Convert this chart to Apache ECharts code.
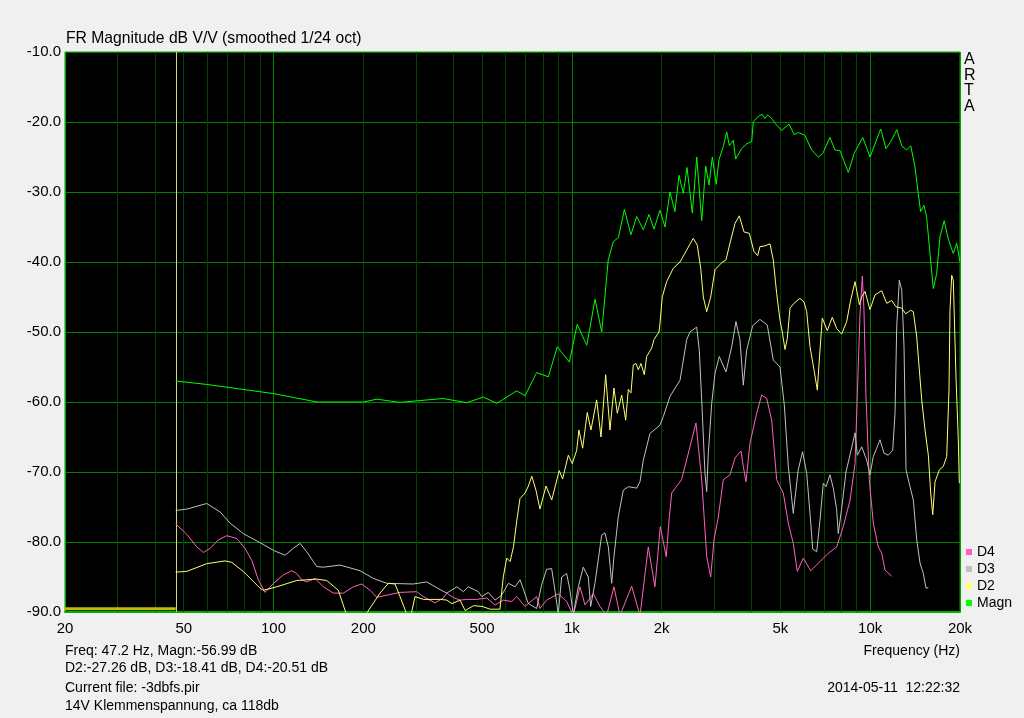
<!DOCTYPE html>
<html>
<head>
<meta charset="utf-8">
<script src="https://cdn.jsdelivr.net/npm/echarts@6/dist/echarts.min.js"></script>
<style>html,body{margin:0;padding:0;background:#f0f0f0;}#c{width:1024px;height:718px;}</style>
</head>
<body>
<div id="c"></div>
<script>
// ---- data (frequency in Hz, level in dB) ----
const magnFreq = [47,60,100,140,200,222,265,370,444,505,560,653,697,762,834,894,981,1042,1122,1196,1259,1324,1377,1432,1500,1578,1650,1736,1814,1884,1974,2052,2132,2216,2286,2364,2432,2534,2622,2724,2810,2882,2956,3048,3112,3218,3304,3372,3476,3540,3708,3856,4008,4056,4216,4346,4436,4530,4676,4798,5050,5344,5566,5742,6040,6368,6700,6934,7328,7620,7926,8446,8832,9440,9990,10840,11298,11722,12276,12756,13244,13676,14126,14488,14760,15136,15454,15868,16276,16712,17140,17704,18266,18996,19496,20000];
const magnDb = [-57.0,-57.5,-58.8,-60.0,-60.0,-59.6,-60.05,-59.5,-60.1,-59.3,-60.2,-58.4,-59.1,-55.8,-56.4,-52.1,-54.3,-48.9,-51.9,-45.3,-50.0,-39.7,-37.1,-36.5,-32.5,-36.1,-33.5,-35.4,-33.2,-35.3,-32.6,-35.0,-30.0,-32.8,-27.6,-30.2,-26.5,-33.0,-25.0,-34.1,-26.3,-29.0,-25.0,-28.9,-25.4,-23.5,-21.4,-23.4,-22.6,-25.3,-23.8,-23.1,-22.8,-19.95,-19.2,-18.9,-19.5,-19.0,-19.5,-20.2,-21.2,-20.3,-21.8,-21.5,-21.9,-24.0,-25.0,-24.5,-22.2,-24.0,-24.1,-27.2,-24.5,-22.2,-25.0,-21.0,-23.8,-22.8,-21.1,-23.4,-24.0,-23.4,-26.4,-30.2,-32.8,-31.9,-33.5,-38.8,-43.8,-41.6,-36.4,-34.1,-36.7,-38.8,-37.3,-40.0];

const d2Freq = [47,51.2,59.7,68.8,72.4,79.2,90.1,92.4,102.5,119.6,139.6,150.8,164.9,176,190,205,227.5,242.6,255.4,265.5,279.6,287,298,318,362,381,396,422,439,468,500,532,574,589,605,621,637,654,670,697,715,734,758,782,819,856,907,931,973,1003,1038,1056,1087,1126,1159,1211,1252,1298,1342,1384,1420,1469,1515,1546,1578,1607,1641,1670,1705,1749,1781,1851,1885,1959,1974,2009,2079,2187,2304,2426,2553,2633,2703,2758,2831,2920,3019,3179,3286,3389,3522,3641,3775,3933,4078,4196,4271,4439,4614,4733,4859,4985,5074,5181,5274,5385,5553,5813,6000,6126,6284,6481,6649,6751,6909,7181,7463,7721,8025,8341,8606,8897,9197,9368,9607,9985,10378,10929,11358,11807,12206,12755,13154,13672,13950,14321,14885,15269,15663,15956,16204,16495,17051,17581,18048,18372,18514,18758,18992,19391,19740,19893];
const d2Db = [-84.3,-84.2,-83.1,-82.7,-82.9,-84.2,-86.6,-86.9,-86.4,-85.5,-85.3,-85.5,-86.9,-90.5,-93,-90.2,-87.3,-85.9,-86.0,-87.8,-90.3,-91,-87.8,-88.2,-88.2,-88.3,-88.8,-88.3,-89.8,-89.1,-89.2,-89.6,-89.6,-85.0,-82.3,-82.8,-80.7,-76.9,-73.8,-73.0,-72.0,-70.6,-72.6,-75.3,-72.0,-74.0,-69.8,-71.0,-67.6,-68.8,-66.9,-64.0,-66.6,-61.5,-64.0,-59.7,-65.0,-56.1,-64.0,-58.0,-61.6,-59.0,-62.6,-58.2,-58.7,-54.7,-54.5,-55.4,-54.5,-56.1,-53.5,-52.3,-51.1,-50.0,-48.8,-45.0,-42.8,-40.9,-40.0,-38.3,-36.6,-37.6,-40.9,-45.0,-47.1,-45.0,-41.1,-40.1,-39.7,-37.3,-34.5,-33.4,-35.7,-35.9,-38.5,-39.1,-37.8,-37.7,-37.4,-39.7,-44.5,-48.3,-50.0,-52.5,-50.9,-46.6,-45.9,-45.2,-45.7,-47.1,-52.1,-55.4,-58.3,-54.0,-48.0,-49.8,-47.9,-49.5,-50.3,-48.5,-45.4,-42.8,-46.1,-45.0,-44.2,-46.8,-44.7,-44.1,-45.9,-45.5,-46.4,-46.6,-47.4,-46.9,-47.1,-50.7,-59.7,-64.0,-67.6,-73.0,-76.1,-71.4,-69.7,-69.2,-67.8,-58.3,-46.9,-41.9,-42.6,-56.4,-65.4,-71.6];

const d3Freq = [47,51.2,59.7,66.2,71.5,79.2,90.1,100,109.3,116.5,122.7,129.2,139.6,146.9,167.1,195,216,239.6,294,326,361.6,380.8,411.4,432.9,449.8,485.9,498.9,524.9,552.8,582.1,612.6,645.2,670.5,714.7,762,792,823,855.6,877.6,900.3,924.3,960.7,985.4,1011,1051,1092,1135,1156,1195,1259,1291,1325,1360,1384,1431,1487,1546,1650,1692,1736,1827,1974,2025,2132,2304,2426,2488,2621,2674,2724,2794,2831,2867,2943,3019,3120,3286,3434,3549,3660,3755,3854,4037,4271,4519,4733,4985,5153,5315,5523,5737,5935,6126,6284,6417,6618,6787,6962,7109,7332,7521,7721,7817,8025,8296,8606,8897,9056,9368,9733,9985,10242,10515,10786,11124,11499,11898,12112,12272,12521,12755,12984,13186,13599,13950,14321,14691,15069,15387,15663];
const d3Db = [-75.5,-75.3,-74.5,-75.7,-77.3,-78.8,-80.1,-81.2,-81.9,-80.9,-80.2,-81.4,-83.5,-83.6,-83.3,-84.1,-85.2,-85.9,-86.0,-85.7,-86.8,-87.3,-86.4,-87.1,-86.4,-87.1,-87.8,-87.2,-88.3,-87.6,-85.9,-86.4,-85.4,-88.8,-89.5,-86.1,-83.9,-83.8,-86.9,-90.3,-85.0,-84.5,-86.9,-90.3,-86.4,-83.6,-85.0,-89.2,-85.9,-79.0,-78.7,-80.7,-85.9,-82.1,-76.4,-72.6,-72.1,-72.3,-71.4,-68.3,-64.5,-63.3,-62.1,-59.2,-56.9,-51.1,-50.0,-49.3,-52.6,-59.7,-70.2,-72.8,-67.3,-60.2,-55.9,-53.5,-55.7,-52.1,-48.5,-51.1,-57.6,-52.6,-49.1,-48.2,-49.0,-54.0,-55.0,-60.4,-69.2,-75.9,-69.7,-67.1,-70.2,-75.9,-81.0,-81.4,-76.9,-71.6,-72.1,-70.4,-72.3,-75.4,-78.8,-75.2,-70.0,-67.1,-64.4,-67.6,-66.4,-68.3,-70.4,-67.8,-66.6,-65.4,-67.3,-67.6,-66.9,-61.6,-49.2,-42.6,-44.0,-52.1,-69.7,-72.1,-74.0,-79.7,-83.0,-84.5,-86.6,-86.5];

const d4Freq = [47,51.2,55.3,58.2,61.3,65.3,69.7,75.3,80.2,84.5,88.9,93.7,100,107.9,115.1,119.6,124.3,129.2,137.8,146.9,158.7,171.4,185.1,197.5,210.6,222,239.6,265.5,301.9,317.8,347.7,370.9,380.8,398.8,421.9,444.3,480,518.5,552.8,589.4,628.9,653.6,696.8,762,781.7,823,900.3,960.7,1011,1065,1107,1180,1242,1308,1384,1450,1587,1692,1804,1899,1979,2072,2121,2161,2332,2488,2606,2724,2831,2920,2995,3097,3218,3389,3522,3689,3755,3834,3954,4164,4328,4499,4675,4859,5113,5315,5523,5697,5968,6318,6787,7236,7721,8124,8560,8897,9056,9246,9412,9532,9681,9931,10242,10645,10929,11210,11807];
const d4Db = [-77.4,-78.9,-80.7,-81.5,-80.9,-79.7,-79.1,-79.5,-80.9,-82.6,-85.4,-87.2,-85.9,-84.7,-84.1,-84.5,-85.4,-85.7,-85.2,-86.4,-87.3,-87.3,-86.4,-86.0,-86.9,-87.9,-87.6,-87.2,-87.1,-87.8,-88.7,-88.0,-87.3,-87.9,-88.3,-88.2,-88.2,-88.0,-89.0,-88.3,-88.5,-87.8,-89.2,-87.8,-89.5,-88.3,-87.4,-88.5,-90.5,-86.4,-89.0,-87.4,-89.2,-90.5,-86.4,-90.5,-86.3,-90.5,-80.7,-86.4,-77.8,-82.1,-76.5,-73.0,-71.1,-66.4,-63.0,-71.1,-82.1,-85.0,-79.7,-76.4,-71.1,-70.4,-68.0,-67.0,-69.2,-71.4,-65.9,-61.6,-59.0,-59.5,-62.6,-71.1,-73.0,-77.3,-80.2,-84.2,-82.3,-84.1,-82.8,-81.6,-80.7,-77.8,-74.0,-68.8,-58.8,-47.3,-42.0,-46.9,-59.2,-71.1,-77.3,-80.7,-81.6,-84.0,-84.9];

// axis ticks / grid
const tickFreqs = [20,50,100,200,500,1000,2000,5000,10000,20000];
const tickLabels = ['20','50','100','200','500','1k','2k','5k','10k','20k'];
const minorFreqs = [30,40,50,60,70,80,90,200,300,400,500,600,700,800,900,2000,3000,4000,5000,6000,7000,8000,9000];
const majorFreqs = [100,1000,10000];
const edgeFreqs = [20,20000];
const cursorFreq = 47.2;
const bandFreq = [20,47];
const bandDb = [-89.55,-89.55];
const yMin = -90, yMax = -10, yStep = 10;

const FONT = 'Liberation Sans, Arial, Helvetica, sans-serif';
const zip = (a,b) => a.map((v,i)=>[v,b[i]]);

const lines = [];
minorFreqs.forEach(f => lines.push({xAxis:f, lineStyle:{color:'#004400'}}));
majorFreqs.forEach(f => lines.push({xAxis:f, lineStyle:{color:'#008000'}}));
edgeFreqs.forEach(f => lines.push({xAxis:f, lineStyle:{color:'#00a000'}}));
lines.push({xAxis:cursorFreq, lineStyle:{color:'#d8d870'}});
tickFreqs.forEach((f,i) => lines.push({xAxis:f, name:tickLabels[i], lineStyle:{color:'rgba(0,0,0,0)'}, label:{show:true}}));

const chart = echarts.init(document.getElementById('c'), null, {renderer:'canvas', width:1024, height:718});

function curve(name, fr, db, color){
  return {name, type:'line', data:zip(fr,db), showSymbol:false, symbol:'none', z:3,
    lineStyle:{color, width:1}, itemStyle:{color}, emphasis:{disabled:true}, animation:false, clip:true};
}

chart.setOption({
  backgroundColor:'#f0f0f0',
  animation:false,
  grid:{left:65, top:52, width:895, height:560, show:true, backgroundColor:'#000', borderColor:'#00a000', borderWidth:1, containLabel:false, outerBoundsMode:'none'},
  xAxis:{type:'log', logBase:10, min:20, max:20000,
    axisLabel:{show:false}, axisTick:{show:false}, splitLine:{show:false}, minorSplitLine:{show:false},
    axisLine:{show:true, onZero:false, lineStyle:{color:'#00b000', width:2}}},
  yAxis:{type:'value', min:yMin, max:yMax, interval:yStep,
    axisLabel:{formatter:v=>v.toFixed(1), color:'#000', fontSize:15, fontFamily:FONT, margin:4},
    axisTick:{show:false}, axisLine:{show:false},
    splitLine:{show:true, lineStyle:{color:'#008000', width:1}}},
  legend:{data:['D4','D3','D2','Magn'], orient:'vertical', left:966, top:545, icon:'rect',
    itemWidth:6, itemHeight:6, itemGap:3, padding:0, selectedMode:false,
    textStyle:{color:'#000', fontSize:14, lineHeight:14, fontFamily:FONT}},
  graphic:[
    {type:'text', left:66, top:31, style:{text:'FR Magnitude dB V/V (smoothed 1/24 oct)', fill:'#000', font:'15.7px '+FONT}},
    {type:'text', left:964, top:52, style:{text:'A\nR\nT\nA', fill:'#000', font:'16px '+FONT, lineHeight:15.5}},
    {type:'text', left:65, top:644, style:{text:'Freq: 47.2 Hz, Magn:-56.99 dB', fill:'#000', font:'14px '+FONT}},
    {type:'text', left:65, top:661, style:{text:'D2:-27.26 dB, D3:-18.41 dB, D4:-20.51 dB', fill:'#000', font:'14px '+FONT}},
    {type:'text', left:65, top:681, style:{text:'Current file: -3dbfs.pir', fill:'#000', font:'14px '+FONT}},
    {type:'text', left:65, top:699, style:{text:'14V Klemmenspannung, ca 118db', fill:'#000', font:'14px '+FONT}},
    {type:'text', right:64, top:644, style:{text:'Frequency (Hz)', fill:'#000', font:'14px '+FONT}},
    {type:'text', right:64, top:681, style:{text:'2014-05-11  12:22:32', fill:'#000', font:'14px '+FONT}}
  ],
  series:[
    {name:'band', type:'line', data:zip(bandFreq,bandDb), showSymbol:false, symbol:'none', z:2,
      lineStyle:{color:'#bfbf00', width:3}, animation:false, silent:true,
      markLine:{silent:true, z:1, symbol:['none','none'], animation:false,
        lineStyle:{type:'solid', width:1},
        label:{show:false, position:'start', distance:9, color:'#000', fontSize:15, fontFamily:FONT, formatter:p=>p.name},
        emphasis:{disabled:true},
        data:lines}},
    curve('D4', d4Freq, d4Db, '#ff60c0'),
    curve('D3', d3Freq, d3Db, '#c0c0c0'),
    curve('D2', d2Freq, d2Db, '#ffff70'),
    curve('Magn', magnFreq, magnDb, '#00ff00')
  ]
});
</script>
</body>
</html>
